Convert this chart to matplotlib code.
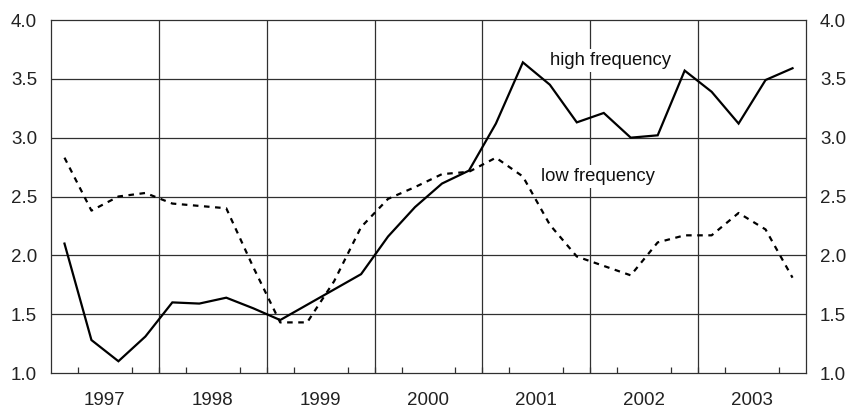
import matplotlib
matplotlib.use("Agg")
import matplotlib.pyplot as plt
import numpy as np

plt.rcParams['font.family'] = ['Liberation Sans', 'DejaVu Sans']

years = [1997, 1998, 1999, 2000, 2001, 2002, 2003]
year_labels = ["1997", "1998", "1999", "2000", "2001", "2002", "2003"]

# quarterly values 1997Q1 .. 2003Q4
high_freq = [2.10, 1.28, 1.10, 1.31,
             1.60, 1.59, 1.64, 1.55,
             1.45, 1.58, 1.71, 1.84,
             2.16, 2.41, 2.61, 2.72,
             3.12, 3.64, 3.45, 3.13,
             3.21, 3.00, 3.02, 3.57,
             3.39, 3.12, 3.49, 3.59]
low_freq = [2.83, 2.38, 2.50, 2.53,
            2.44, 2.42, 2.40, 1.90,
            1.43, 1.43, 1.78, 2.24,
            2.48, 2.58, 2.69, 2.71,
            2.83, 2.67, 2.26, 1.99,
            1.91, 1.83, 2.11, 2.17,
            2.17, 2.36, 2.22, 1.81]
y_ticks = [1.0, 1.5, 2.0, 2.5, 3.0, 3.5, 4.0]

fig = plt.figure(figsize=(8.48, 4.09), dpi=100)
ax = fig.add_axes([51/848, 1-373/409, (806-51)/848, (373-20)/409])

n = len(high_freq)
x = years[0] + (np.arange(n) + 0.5) / 4.0

grid_c = '#303030'
for yv in y_ticks[1:-1]:
    ax.axhline(yv, color=grid_c, lw=0.9, zorder=1)
for yr in years[1:]:
    ax.axvline(yr, color=grid_c, lw=0.9, zorder=1)

ax.plot(x, high_freq, color='black', lw=1.6, zorder=3, solid_joinstyle='miter')
ax.plot(x, low_freq, color='black', lw=1.6, ls=(0, (2.5, 2.5)), zorder=3)

ax.text(2002.19, 3.655, "high frequency", ha='center', va='center', fontsize=13.3,
        color='#111111', zorder=4,
        bbox=dict(facecolor='white', edgecolor='none', pad=2))
ax.text(2002.07, 2.67, "low frequency", ha='center', va='center', fontsize=13.3,
        color='#111111', zorder=4,
        bbox=dict(facecolor='white', edgecolor='none', pad=2))

ax.set_xlim(years[0], years[-1] + 1)
ax.set_ylim(1.0, 4.0)

ax.set_yticks(y_ticks)
ax.set_yticklabels([f"{v:.1f}" for v in y_ticks])
ax.tick_params(axis='y', which='both', length=0, labelsize=13.5, labelright=True,
               pad=10, colors='#222222')

# year labels as major ticks (no tick marks), quarter marks as minor ticks
ax.set_xticks([yr + 0.5 for yr in years])
ax.set_xticklabels(year_labels)
ax.tick_params(axis='x', which='major', length=0, labelsize=13.5, pad=13.5, colors='#222222')
q_ticks = years[0] + np.arange(1, 4 * len(years)) / 4.0
ax.set_xticks(q_ticks, minor=True)
ax.tick_params(axis='x', which='minor', direction='in', length=4, width=0.9, color=grid_c)

for s in ax.spines.values():
    s.set_color(grid_c)
    s.set_linewidth(0.9)

fig.savefig("out.png", dpi=100)
